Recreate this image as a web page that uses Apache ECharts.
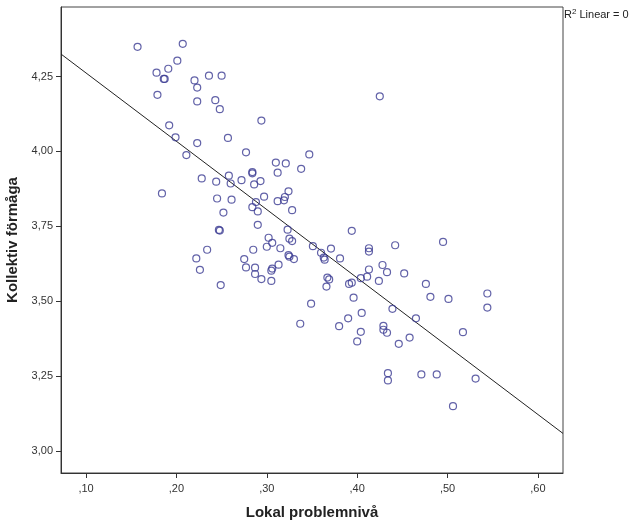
<!DOCTYPE html>
<html>
<head>
<meta charset="utf-8">
<script src="https://cdn.jsdelivr.net/npm/echarts@6/dist/echarts.min.js"></script>
<style>
html,body{margin:0;padding:0;background:#fff;}
#chart{width:632px;height:530px;}
</style>
</head>
<body>
<div id="chart"></div>
<script>
// Data
var problemniva = [
0.157,0.207,0.201,0.178,0.191,0.186,0.187,0.220,0.223,0.236,
0.250,0.179,0.223,0.243,0.248,0.294,0.192,0.199,0.223,0.257,
0.211,0.277,0.425,0.347,0.310,0.321,0.312,0.338,0.284,0.284,
0.258,0.228,0.244,0.260,0.272,0.286,0.293,0.184,0.245,0.261,
0.297,0.324,0.312,0.320,0.319,0.288,0.284,0.290,0.328,0.252,
0.290,0.248,0.247,0.323,0.302,0.325,0.328,0.351,0.371,0.306,
0.300,0.315,0.285,0.234,0.222,0.275,0.324,0.325,0.330,0.360,
0.363,0.364,0.381,0.226,0.277,0.287,0.313,0.306,0.305,0.287,
0.294,0.305,0.367,0.369,0.366,0.391,0.394,0.249,0.349,0.394,
0.413,0.413,0.442,0.495,0.413,0.428,0.433,0.452,0.411,0.404,
0.424,0.476,0.481,0.501,0.396,0.544,0.544,0.439,0.465,0.405,
0.390,0.380,0.337,0.429,0.429,0.433,0.404,0.400,0.458,0.446,
0.517,0.434,0.434,0.471,0.488,0.531,0.506
];
var kollektivFormaga = [
4.349,4.359,4.303,4.263,4.276,4.242,4.242,4.237,4.213,4.253,
4.253,4.189,4.167,4.171,4.141,4.103,4.087,4.047,4.028,4.045,
3.988,3.997,4.184,3.990,3.963,3.960,3.929,3.942,3.927,3.931,
3.919,3.910,3.899,3.893,3.904,3.890,3.901,3.860,3.843,3.839,
3.849,3.867,3.834,3.848,3.837,3.831,3.814,3.800,3.804,3.796,
3.755,3.736,3.738,3.739,3.712,3.709,3.701,3.684,3.676,3.695,
3.682,3.677,3.672,3.672,3.643,3.641,3.654,3.649,3.641,3.662,
3.646,3.639,3.643,3.605,3.613,3.612,3.622,3.609,3.602,3.591,
3.574,3.568,3.579,3.573,3.549,3.558,3.562,3.554,3.492,3.735,
3.677,3.666,3.687,3.698,3.606,3.621,3.597,3.593,3.582,3.577,
3.568,3.558,3.515,3.508,3.512,3.526,3.479,3.475,3.443,3.461,
3.443,3.417,3.425,3.418,3.405,3.395,3.398,3.366,3.379,3.358,
3.397,3.260,3.236,3.256,3.256,3.242,3.150
];
// Fit line endpoints
var fitX = [0.0723, 0.6277];
var fitY = [4.325, 3.059];

var xTicks = [0.1, 0.2, 0.3, 0.4, 0.5, 0.6];
var xTickLabels = [',10', ',20', ',30', ',40', ',50', ',60'];
var yTicks = [3.0, 3.25, 3.5, 3.75, 4.0, 4.25];
var yTickLabels = ['3,00', '3,25', '3,50', '3,75', '4,00', '4,25'];

var xTitle = 'Lokal problemnivå';
var yTitle = 'Kollektiv förmåga';

function lookup(ticks, labels, v) {
  var best = 0;
  for (var i = 1; i < ticks.length; i++) {
    if (Math.abs(ticks[i] - v) < Math.abs(ticks[best] - v)) best = i;
  }
  return labels[best];
}

var points = problemniva.map(function (x, i) { return [x, kollektivFormaga[i]]; });
var fitData = fitX.map(function (x, i) { return [x, fitY[i]]; });

var chart = echarts.init(document.getElementById('chart'), null, { renderer: 'canvas' });
var font = 'Liberation Sans, Arial, sans-serif';
chart.setOption({
  animation: false,
  backgroundColor: '#ffffff',
  grid: { left: 61, right: 69, top: 7, bottom: 57, containLabel: false, outerBoundsMode: 'none',
    show: true, borderColor: '#444', borderWidth: 1, backgroundColor: '#fff' },
  xAxis: {
    type: 'value', min: 0.0723, max: 0.6277,
    name: xTitle, nameLocation: 'middle', nameGap: 32,
    nameTextStyle: { fontFamily: font, fontSize: 15, fontWeight: 'bold', color: '#222' },
    splitLine: { show: false },
    axisLine: { show: true, onZero: false, lineStyle: { color: '#333', width: 1 } },
    axisTick: { show: true, length: 5, inside: false, customValues: xTicks, lineStyle: { color: '#333' } },
    axisLabel: { customValues: xTicks, margin: 10, fontFamily: font, fontSize: 11, color: '#333',
      formatter: function (v) { return lookup(xTicks, xTickLabels, v); } }
  },
  yAxis: {
    type: 'value', min: 2.927, max: 4.482,
    name: yTitle, nameLocation: 'middle', nameGap: 38, nameRotate: 90,
    nameTextStyle: { fontFamily: font, fontSize: 15, fontWeight: 'bold', color: '#222' },
    splitLine: { show: false },
    axisLine: { show: true, onZero: false, lineStyle: { color: '#333', width: 1 } },
    axisTick: { show: true, length: 5, inside: false, customValues: yTicks, lineStyle: { color: '#333' } },
    axisLabel: { customValues: yTicks, margin: 8, fontFamily: font, fontSize: 11, color: '#333',
      formatter: function (v) { return lookup(yTicks, yTickLabels, v); } }
  },
  series: [
    {
      type: 'line', data: fitData, symbol: 'none', silent: true,
      lineStyle: { color: '#222', width: 1 }, z: 2
    },
    {
      type: 'scatter', data: points, symbol: 'circle', symbolSize: 7,
      itemStyle: { color: 'rgba(255,255,255,0)', borderColor: '#3b3b92', borderWidth: 1.2 }, z: 3
    }
  ],
  graphic: [
    { type: 'text', left: 564, top: 8, style: {
      text: '{r|R}{s|2}{r| Linear = 0}',
      rich: {
        r: { fontFamily: font, fontSize: 11, fill: '#222', color: '#222', verticalAlign: 'bottom' },
        s: { fontFamily: font, fontSize: 8, fill: '#222', color: '#222', verticalAlign: 'top', padding: [0, 0, 4, 0] }
      }
    } }
  ]
});
</script>
</body>
</html>
